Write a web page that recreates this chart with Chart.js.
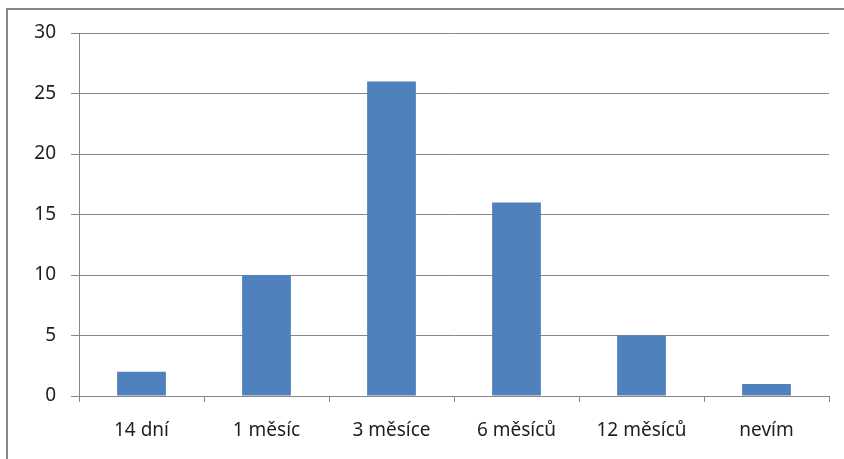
<!DOCTYPE html>
<html>
<head>
<meta charset="utf-8">
<script src="https://cdn.jsdelivr.net/npm/chart.js@4"></script>
<style>
  html, body { margin: 0; padding: 0; background: #fff; }
  #wrap { width: 844px; height: 459px; position: relative; }
</style>
</head>
<body>
<div id="wrap"><canvas id="chart1" width="844" height="459"></canvas></div>
<script>
const categories = ["14 dní", "1 měsíc", "3 měsíce", "6 měsíců", "12 měsíců", "nevím"];
const values = [2, 10, 26, 16, 5, 1];
const yTicks = [0, 5, 10, 15, 20, 25, 30];

const gridColor = "#878787";
const textColor = "#1e1e1e";
const font = { family: "Noto Sans", size: 19 };

// outer frame of the original picture, cut off on the right and bottom
const framePlugin = {
    id: "frame",
    beforeDraw(chart) {
        const { ctx } = chart;
        ctx.save();
        ctx.strokeStyle = "#878787";
        ctx.lineWidth = 2;
        ctx.strokeRect(7, 9, 900, 900);
        ctx.restore();
    },
};

new Chart(document.getElementById("chart1"), {
    type: "bar",
    data: {
        labels: categories,
        datasets: [{
            data: values,
            backgroundColor: "#4f81bd",
            categoryPercentage: 1,
            barPercentage: 0.39,
        }],
    },
    plugins: [framePlugin],
    options: {
        responsive: false,
        animation: false,
        layout: { padding: { left: 0, right: 15, top: 33, bottom: 0 } },
        plugins: { legend: { display: false }, tooltip: { enabled: false } },
        scales: {
            x: {
                offset: true,
                grid: {
                    offset: true,
                    drawOnChartArea: false,
                    color: gridColor,
                    tickLength: 6,
                },
                border: { color: gridColor, width: 1 },
                ticks: { color: textColor, font, padding: 17, maxRotation: 0 },
                afterFit: (scale) => { scale.height = 63; },
            },
            y: {
                min: 0,
                max: 30,
                afterBuildTicks: (scale) => { scale.ticks = yTicks.map((v) => ({ value: v })); },
                grid: { color: gridColor, tickLength: 8 },
                border: { color: gridColor, width: 1 },
                ticks: { color: textColor, font, padding: 15 },
                afterFit: (scale) => { scale.width = 79; },
            },
        },
    },
});
</script>
</body>
</html>
